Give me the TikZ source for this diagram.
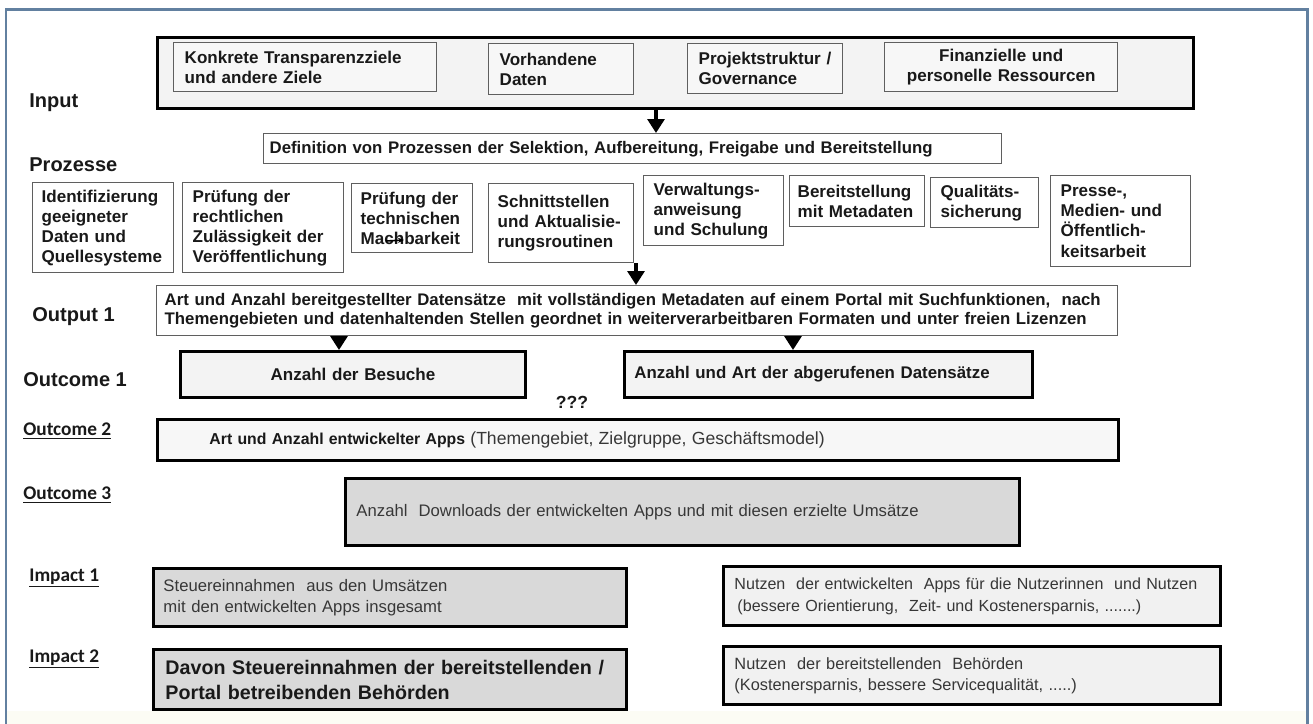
\documentclass[tikz,border=0pt]{standalone}
\usepackage{fontspec}
\setmainfont{Liberation Sans}
\newfontfamily\calfont{Carlito}
\usetikzlibrary{arrows.meta}

\definecolor{framecol}{RGB}{98,128,160}
\definecolor{edgegray}{RGB}{95,95,95}
\definecolor{boxlight}{RGB}{243,243,243}
\definecolor{boxpale}{RGB}{247,247,247}
\definecolor{boxpaletwo}{RGB}{241,241,241}
\definecolor{boxdark}{RGB}{217,217,217}
\definecolor{textblack}{RGB}{25,25,25}
\definecolor{textgray}{RGB}{55,55,55}
\definecolor{creamstrip}{RGB}{252,252,244}

\newcommand{\boxfont}{\bfseries\fontsize{9.7}{11.4}\selectfont}
\newcommand{\regfont}{\fontsize{9.5}{12.2}\selectfont}
\newcommand{\levelfont}{\bfseries\fontsize{11.4}{13}\selectfont}
\newcommand{\ulfont}{\calfont\bfseries\fontsize{11}{13}\selectfont}
\hyphenpenalty=10000
\exhyphenpenalty=10000

\begin{document}
\begin{tikzpicture}[x=0.02cm, y=-0.02cm,
    thinbox/.style={draw=edgegray, line width=0.8pt, fill=white, anchor=north west, align=left, inner xsep=0.2cm, inner ysep=0pt, font=\boxfont, text=textblack},
    inbox/.style={thinbox, fill=boxpale},
    heavybox/.style={draw=black, line width=1.7pt, fill=boxlight, anchor=north west, align=left, inner xsep=0.2cm, inner ysep=0pt, font=\boxfont, text=textblack},
    level/.style={anchor=west, inner sep=0pt, font=\levelfont, text=textblack},
    ullevel/.style={anchor=west, inner sep=0pt, font=\ulfont, text=textblack},
    downarrow/.style={line width=1.8pt, -{Triangle[width=0.34cm, length=0.28cm]}}]

    \useasboundingbox (0,0) rectangle (1313,724);
    \fill[creamstrip] (6,711) rectangle (1307,724);
    \draw[framecol, line width=0.06cm] (6,724) -- (6,9) -- (1307,9) -- (1307,724);

    \node[level] (linput) at (29,103) {Input};
    \node[level] (lproc) at (29,165) {Prozesse};
    \node[level] (lout) at (32,317) {Output 1};
    \node[level] (loc1) at (23,380) {Outcome 1};
    \node[ullevel] (loc2) at (23,431) {\underline{Outcome 2}};
    \node[ullevel] (loc3) at (23,495) {\underline{Outcome 3}};
    \node[ullevel] (limp1) at (29,578) {\underline{Impact 1}};
    \node[ullevel] (limp2) at (29,659) {\underline{Impact 2}};

    \node[heavybox, minimum width=20.72cm, minimum height=1.42cm] (input) at (156,36) {};
    \node[inbox, minimum width=5.26cm, minimum height=0.98cm, text width=4.82cm, inner xsep=0.22cm] (goals) at (173,42) {Konkrete Transparenzziele\\und andere Ziele};
    \node[inbox, minimum width=2.9cm, minimum height=1.02cm, text width=2.46cm, inner xsep=0.22cm] (data) at (488,43) {Vorhandene\\Daten};
    \node[inbox, minimum width=3.1cm, minimum height=1.0cm, text width=2.66cm, inner xsep=0.22cm] (governance) at (687,43) {Projektstruktur /\\Governance};
    \node[inbox, minimum width=4.66cm, minimum height=0.98cm, text width=4.2cm, inner xsep=0.23cm, align=center] (resources) at (884,42) {Finanzielle und\\personelle Ressourcen};

    \node[thinbox, minimum width=14.76cm, minimum height=0.6cm, text width=14.52cm, inner xsep=0.12cm, font=\bfseries\fontsize{9.55}{11.4}\selectfont] (definition) at (263,133) {Definition von Prozessen der Selektion, Aufbereitung, Freigabe und Bereitstellung};

    \node[thinbox, minimum width=2.82cm, minimum height=1.8cm, text width=2.46cm, inner xsep=0.18cm] (identify) at (32,182) {Identifizierung\\geeigneter\\Daten und\\Quellesysteme};
    \node[thinbox, minimum width=3.22cm, minimum height=1.8cm, text width=2.82cm] (legal) at (182,182) {Prüfung der\\rechtlichen\\Zulässigkeit der\\Veröffentlichung};
    \node[thinbox, minimum width=2.42cm, minimum height=1.38cm, text width=2.06cm, inner xsep=0.18cm] (technical) at (351,183) {Prüfung der\\technischen\\Machbarkeit};
    \node[thinbox, minimum width=2.9cm, minimum height=1.58cm, text width=2.54cm, inner xsep=0.18cm] (iface) at (488,183) {Schnittstellen\\und Aktualisie-\\rungsroutinen};
    \node[thinbox, minimum width=2.8cm, minimum height=1.4cm, text width=2.4cm] (admin) at (643,175) {Verwaltungs-\\anweisung\\und Schulung};
    \node[thinbox, minimum width=2.7cm, minimum height=1.02cm, text width=2.38cm, inner xsep=0.16cm] (metadata) at (789,175) {Bereitstellung\\mit Metadaten};
    \node[thinbox, minimum width=2.16cm, minimum height=1.0cm, text width=1.76cm] (quality) at (930,177) {Qualitäts-\\sicherung};
    \node[thinbox, minimum width=2.8cm, minimum height=1.82cm, text width=2.4cm] (press) at (1050,175) {Presse-,\\Medien- und\\Öffentlich-\\keitsarbeit};

    \coordinate (slipa) at (386,241);
    \coordinate (slipb) at (404,240);
    \draw[line width=0.9pt, -{Stealth[length=0.12cm, width=0.1cm]}] (slipa) -- (slipb);

    \node[thinbox, minimum width=19.22cm, minimum height=1.0cm, text width=18.9cm, inner xsep=0.16cm, font=\bfseries\fontsize{9.55}{10.4}\selectfont] (output) at (156,285) {Art und Anzahl bereitgestellter Datensätze~ mit vollständigen Metadaten auf einem Portal mit Suchfunktionen,~ nach\\Themengebieten und datenhaltenden Stellen geordnet in weiterverarbeitbaren Formaten und unter freien Lizenzen};

    \node[heavybox, minimum width=6.9cm, minimum height=0.92cm, text width=6.5cm, align=center] (visits) at (179,350) {Anzahl der Besuche};
    \node[heavybox, minimum width=8.16cm, minimum height=0.92cm, text width=7.76cm, font=\bfseries\fontsize{9.6}{11.4}\selectfont] (retrieved) at (623,350) {Anzahl und Art der abgerufenen Datensätze};
    \node[font=\bfseries\fontsize{10}{12}\selectfont, text=textblack] (unknown) at (572,402) {???};

    \node[heavybox, fill=boxpale, minimum width=19.22cm, minimum height=0.82cm, text width=17.14cm, inner xsep=1.04cm, font=\bfseries\fontsize{9}{11}\selectfont] (apps) at (156,418) {Art und Anzahl entwickelter Apps {\mdseries\fontsize{10}{11}\selectfont\color{textgray}(Themengebiet, Zielgruppe, Geschäftsmodel)}};

    \node[heavybox, fill=boxdark, minimum width=13.48cm, minimum height=1.34cm, text width=13.04cm, inner xsep=0.22cm, font=\regfont, text=textgray] (downloads) at (344,477) {Anzahl~ Downloads der entwickelten Apps und mit diesen erzielte Umsätze};

    \node[heavybox, fill=boxdark, minimum width=9.46cm, minimum height=1.16cm, text width=9.06cm, font=\regfont, text=textgray] (taxall) at (152,567) {Steuereinnahmen~ aus den Umsätzen\\mit den entwickelten Apps insgesamt};
    \node[heavybox, fill=boxpaletwo, minimum width=9.94cm, minimum height=1.18cm, text width=9.5cm, inner xsep=0.22cm, font=\fontsize{9.15}{12.4}\selectfont, text=textgray] (userbenefit) at (722,565) {Nutzen~ der entwickelten~ Apps für die Nutzerinnen~ und Nutzen\\\hspace*{0.06cm}(bessere Orientierung,~ Zeit- und Kostenersparnis, .......)};
    \node[heavybox, fill=boxdark, minimum width=9.46cm, minimum height=1.2cm, text width=8.98cm, inner xsep=0.24cm, font=\bfseries\fontsize{11.2}{14.2}\selectfont] (taxauth) at (152,648) {Davon Steuereinnahmen der bereitstellenden /\\Portal betreibenden Behörden};
    \node[heavybox, fill=boxpaletwo, minimum width=9.94cm, minimum height=1.16cm, text width=9.5cm, inner xsep=0.22cm, font=\fontsize{9.3}{12.2}\selectfont, text=textgray] (authbenefit) at (722,645) {Nutzen~ der bereitstellenden~ Behörden\\(Kostenersparnis, bessere Servicequalität, .....)};

    \coordinate (arrowin) at (656,0);
    \coordinate (arrowproc) at (636,0);
    \coordinate (arrowvis) at (339,0);
    \coordinate (arrowret) at (793,0);
    \draw[downarrow] (input.south -| arrowin) -- (definition.north -| arrowin);
    \draw[downarrow] (iface.south -| arrowproc) -- (output.north -| arrowproc);
    \draw[downarrow] (output.south -| arrowvis) -- (visits.north -| arrowvis);
    \draw[downarrow] (output.south -| arrowret) -- (retrieved.north -| arrowret);
\end{tikzpicture}
\end{document}
